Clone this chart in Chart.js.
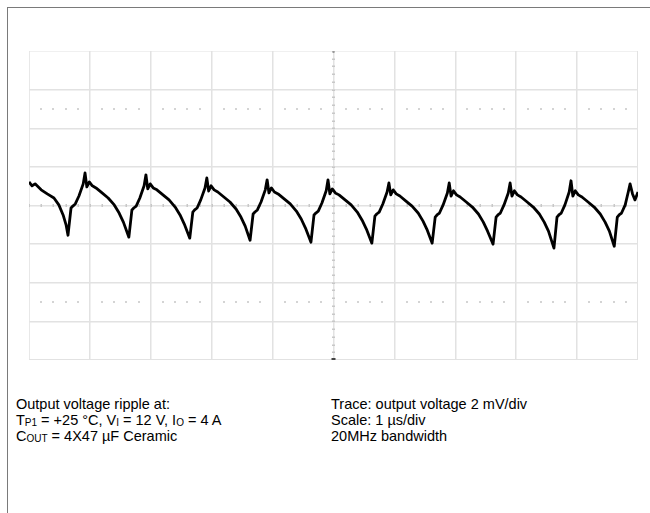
<!DOCTYPE html>
<html>
<head>
<meta charset="utf-8">
<script src="https://cdn.jsdelivr.net/npm/chart.js@4"></script>
<style>
  html, body { margin: 0; padding: 0; background: #fff; }
  body { width: 650px; height: 513px; position: relative; overflow: hidden; font-family: "Liberation Sans", Arial, sans-serif; }
  .frame { position: absolute; left: 7px; top: 7px; width: 660px; height: 520px; border-top: 1px solid #7a7a7a; border-left: 1px solid #7a7a7a; }
  .plot { position: absolute; left: 29px; top: 51px; width: 609px; height: 309px; }
  .note { position: absolute; top: 396px; font-size: 14.5px; line-height: 16px; color: #000; white-space: nowrap; }
  .note sub { font-size: 10px; vertical-align: -1px; line-height: 0; }
</style>
</head>
<body>
<div class="frame"></div>
<div class="plot"><canvas id="scope"></canvas></div>
<div class="note" style="left:16px">
  Output voltage ripple at:<br>
  T<sub>P1</sub> = +25 °C, V<sub>I</sub> = 12 V, I<sub>O</sub> = 4 A<br>
  C<sub>OUT</sub> = 4X47 µF Ceramic
</div>
<div class="note" style="left:331px">
  Trace: output voltage 2 mV/div<br>
  Scale: 1 µs/div<br>
  20MHz bandwidth
</div>
<script>
// time axis in µs (1 µs/div), voltage in mV (2 mV/div)
const xTicks = [0, 1, 2, 3, 4, 5, 6, 7, 8, 9, 10];
const yTicks = [-8, -6, -4, -2, 0, 2, 4, 6, 8];
const cursorLevels = [5, -5];

const times = [
  0.00, 0.05, 0.10, 0.20, 0.30, 0.41, 0.49, 0.56, 0.61,
  0.64, 0.69, 0.72, 0.76, 0.82, 0.89, 0.92, 0.95, 0.99, 1.04, 1.10, 1.20, 1.30, 1.40, 1.48, 1.55,
  1.64, 1.69, 1.72, 1.76, 1.82, 1.89, 1.92, 1.95, 1.99, 2.04, 2.10, 2.20, 2.30, 2.40, 2.48, 2.55,
  2.64, 2.69, 2.72, 2.76, 2.82, 2.89, 2.92, 2.95, 2.99, 3.04, 3.10, 3.20, 3.30, 3.40, 3.48, 3.55,
  3.63, 3.68, 3.71, 3.75, 3.81, 3.88, 3.91, 3.94, 3.98, 4.03, 4.09, 4.19, 4.29, 4.39, 4.47, 4.54,
  4.63, 4.68, 4.71, 4.75, 4.81, 4.88, 4.91, 4.94, 4.98, 5.03, 5.09, 5.19, 5.29, 5.39, 5.47, 5.54,
  5.63, 5.68, 5.71, 5.75, 5.81, 5.88, 5.91, 5.94, 5.98, 6.03, 6.09, 6.19, 6.29, 6.39, 6.47, 6.54,
  6.62, 6.67, 6.70, 6.74, 6.80, 6.87, 6.90, 6.93, 6.97, 7.02, 7.08, 7.18, 7.28, 7.38, 7.46, 7.53,
  7.62, 7.67, 7.70, 7.74, 7.80, 7.87, 7.90, 7.93, 7.97, 8.02, 8.08, 8.18, 8.28, 8.38, 8.46, 8.53,
  8.62, 8.67, 8.70, 8.74, 8.80, 8.87, 8.90, 8.93, 8.97, 9.02, 9.08, 9.18, 9.28, 9.38, 9.46, 9.53,
  9.61, 9.66, 9.69, 9.73, 9.79, 9.84, 9.87, 9.91, 9.95, 10.00
];

const ripple = [
  1.22, 1.02, 1.12, 0.81, 0.60, 0.39, 0.03, -0.49, -1.02,
  -1.54, -0.13, -0.03, 0.08, 0.49, 1.12, 1.69, 0.96, 1.22, 1.02, 0.91, 0.65, 0.39, 0.03, -0.39, -0.86,
  -1.64, -0.23, -0.13, -0.03, 0.39, 1.02, 1.59, 0.86, 1.12, 0.91, 0.81, 0.55, 0.29, -0.08, -0.49, -0.96,
  -1.69, -0.34, -0.23, -0.13, 0.29, 0.91, 1.43, 0.75, 1.02, 0.81, 0.70, 0.44, 0.18, -0.18, -0.60, -1.07,
  -1.80, -0.44, -0.34, -0.23, 0.18, 0.81, 1.33, 0.65, 0.91, 0.70, 0.60, 0.34, 0.08, -0.29, -0.70, -1.17,
  -1.90, -0.49, -0.39, -0.29, 0.13, 0.76, 1.33, 0.60, 0.86, 0.65, 0.55, 0.29, 0.03, -0.34, -0.76, -1.22,
  -1.95, -0.55, -0.44, -0.34, 0.08, 0.70, 1.17, 0.55, 0.81, 0.60, 0.49, 0.23, -0.03, -0.39, -0.81, -1.28,
  -1.95, -0.60, -0.49, -0.39, 0.03, 0.65, 1.17, 0.49, 0.76, 0.55, 0.44, 0.18, -0.08, -0.44, -0.86, -1.33,
  -2.00, -0.60, -0.49, -0.39, 0.03, 0.65, 1.17, 0.49, 0.76, 0.55, 0.44, 0.18, -0.08, -0.44, -0.86, -1.33,
  -2.21, -0.60, -0.49, -0.39, 0.03, 0.70, 1.28, 0.49, 0.76, 0.55, 0.44, 0.18, -0.08, -0.44, -0.86, -1.33,
  -2.11, -0.60, -0.49, -0.39, 0.03, 0.70, 1.12, 0.60, 0.29, 0.70
];

// graticule extras: minor ticks on centre lines, dotted cursor rows, markers
const graticule = {
  id: 'graticule',
  beforeDatasetsDraw(chart) {
    const { ctx, chartArea: a, scales: { x, y } } = chart;
    const cx = x.getPixelForValue(5), cy = y.getPixelForValue(0);
    ctx.save();
    ctx.fillStyle = '#c8c8c8';
    for (let i = 0; i <= 50; i++) {
      const px = x.getPixelForValue(i * 0.2);
      ctx.fillRect(Math.round(px) - 0.5, cy - 1.5, 1.5, 3);
    }
    for (let i = 0; i <= 40; i++) {
      const py = y.getPixelForValue(-8 + i * 0.4);
      ctx.fillRect(cx - 1.5, Math.round(py) - 0.5, 3, 1.5);
    }
    ctx.fillStyle = '#d4d4d4';
    cursorLevels.forEach(v => {
      const py = Math.round(y.getPixelForValue(v));
      for (let i = 0; i <= 50; i++) {
        if (i % 5 === 0) continue;
        const px = x.getPixelForValue(i * 0.2);
        ctx.fillRect(Math.round(px) - 1, py - 1, 2, 2);
      }
    });
    // trigger position marker and channel ground marker
    ctx.fillStyle = '#444';
    ctx.fillRect(cx - 2, a.bottom - 2, 4, 3);
    ctx.fillStyle = '#999';
    ctx.fillRect(cx - 1, a.top - 1, 2, 3);
    ctx.fillRect(a.left - 6, cy - 1, 4, 2);
    ctx.restore();
  }
};

new Chart(document.getElementById('scope'), {
  type: 'scatter',
  data: {
    datasets: [{
      data: times.map((t, i) => ({ x: t, y: ripple[i] })),
      showLine: true,
      borderColor: '#000',
      borderWidth: 2.8,
      pointRadius: 0,
      tension: 0,
      borderJoinStyle: 'round'
    }]
  },
  options: {
    responsive: true,
    maintainAspectRatio: false,
    animation: false,
    layout: { padding: 0 },
    plugins: { legend: { display: false }, tooltip: { enabled: false } },
    scales: {
      x: {
        type: 'linear', min: 0, max: 10,
        afterBuildTicks: s => { s.ticks = xTicks.map(v => ({ value: v })); },
        ticks: { display: false },
        grid: { color: '#e2e2e2', lineWidth: 1.5, drawTicks: false },
        border: { display: true, color: '#e2e2e2', width: 1.5 }
      },
      y: {
        type: 'linear', min: -8, max: 8,
        afterBuildTicks: s => { s.ticks = yTicks.map(v => ({ value: v })); },
        ticks: { display: false },
        grid: { color: '#e2e2e2', lineWidth: 1.5, drawTicks: false },
        border: { display: true, color: '#e2e2e2', width: 1.5 }
      }
    }
  },
  plugins: [graticule]
});
</script>
</body>
</html>
